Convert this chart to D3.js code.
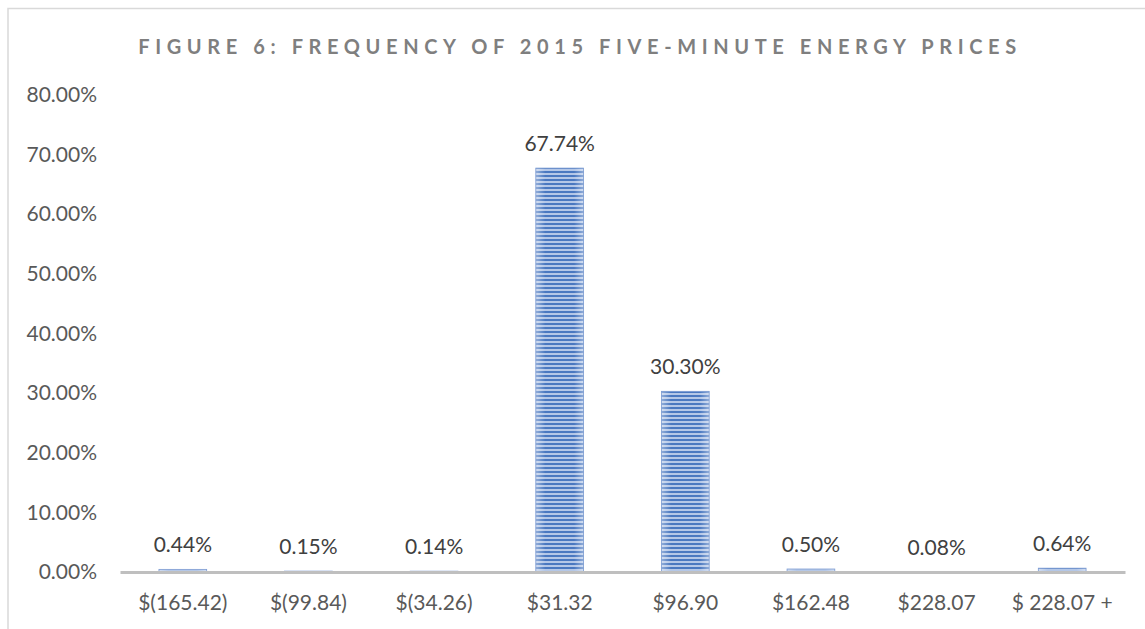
<!DOCTYPE html>
<html>
<head>
<meta charset="utf-8">
<script src="https://cdn.jsdelivr.net/npm/d3@7"></script>
<style>
  body { margin: 0; background: #fff; }
  svg { display: block; font-family: Lato, "Open Sans", sans-serif; }
</style>
</head>
<body>
<div id="chart"></div>
<script>
// ------------------------------------------------------------------
// frequency of 2015 five-minute energy prices
// ------------------------------------------------------------------
const title_text = "FIGURE 6: FREQUENCY OF 2015 FIVE-MINUTE ENERGY PRICES"
const categories = ["$(165.42)", "$(99.84)", "$(34.26)", "$31.32", "$96.90", "$162.48", "$228.07", "$ 228.07 +"]
const shares = [0.44, 0.15, 0.14, 67.74, 30.30, 0.50, 0.08, 0.64]
const y_ticks = [0, 10, 20, 30, 40, 50, 60, 70, 80]

const W = 1145, H = 629
const margin = {top: 95, right: 20, bottom: 57, left: 120}
const width = W - margin.left - margin.right
const height = H - margin.top - margin.bottom
const font_size = 21

const svg = d3.select("#chart").append("svg")
    .attr("width", W)
    .attr("height", H)

// stripes + side shading for the bars
const defs = svg.append("defs")
const pat = defs.append("pattern")
    .attr("id", "stripes")
    .attr("patternUnits", "userSpaceOnUse")
    .attr("width", 8).attr("height", 4)
pat.append("rect").attr("width", 8).attr("height", 4).attr("fill", "#b4c7e7")
pat.append("rect").attr("width", 8).attr("height", 2).attr("fill", "#4a78c0")

const grad = defs.append("linearGradient").attr("id", "shade")
    .attr("x1", "0").attr("x2", "1").attr("y1", "0").attr("y2", "0")
grad.append("stop").attr("offset", "0").attr("stop-color", "#fff").attr("stop-opacity", 0.4)
grad.append("stop").attr("offset", "0.2").attr("stop-color", "#fff").attr("stop-opacity", 0)
grad.append("stop").attr("offset", "0.8").attr("stop-color", "#fff").attr("stop-opacity", 0)
grad.append("stop").attr("offset", "1").attr("stop-color", "#fff").attr("stop-opacity", 0.4)

// chart border
svg.append("rect")
    .attr("x", 8).attr("y", 8.5)
    .attr("width", W).attr("height", H)
    .attr("fill", "none")
    .attr("stroke", "#d9d9d9")
    .attr("stroke-width", 1.5)

svg.append("text")
    .attr("x", 580).attr("y", 54)
    .attr("text-anchor", "middle")
    .attr("font-size", 20)
    .attr("font-weight", "bold")
    .attr("letter-spacing", 5.6)
    .attr("fill", "#7f7f7f")
    .text(title_text)

const g = svg.append("g")
    .attr("transform", "translate(" + margin.left + "," + margin.top + ")")

const x = d3.scaleBand()
    .domain(categories)
    .range([0, width])
    .paddingInner(0.62)
    .paddingOuter(0.31)

const y = d3.scaleLinear()
    .domain([0, 80])
    .range([height, 0])

// y axis labels (no line)
const yAxis = g.append("g")
    .call(d3.axisLeft(y).tickValues(y_ticks).tickSize(0).tickPadding(23)
        .tickFormat(d => d3.format(".2f")(d) + "%"))
yAxis.select(".domain").remove()
yAxis.selectAll("text")
    .attr("font-size", font_size)
    .attr("font-family", "Lato, 'Open Sans', sans-serif")
    .attr("fill", "#595959")

// bars
const bars = g.selectAll(".bar")
    .data(shares)
    .enter().append("g")
    .attr("class", "bar")

bars.append("rect")
    .attr("x", (d, i) => x(categories[i]))
    .attr("y", d => y(d))
    .attr("width", x.bandwidth())
    .attr("height", d => height - y(d))
    .attr("fill", "url(#stripes)")

bars.append("rect")
    .attr("x", (d, i) => x(categories[i]))
    .attr("y", d => y(d))
    .attr("width", x.bandwidth())
    .attr("height", d => height - y(d))
    .attr("fill", "url(#shade)")
    .attr("stroke", "#7c9bd2")
    .attr("stroke-width", 0.8)

// value labels
g.selectAll(".val")
    .data(shares)
    .enter().append("text")
    .attr("class", "val")
    .attr("x", (d, i) => x(categories[i]) + x.bandwidth() / 2)
    .attr("y", d => y(d) - 17)
    .attr("text-anchor", "middle")
    .attr("font-size", font_size)
    .attr("fill", "#404040")
    .text(d => d3.format(".2f")(d) + "%")

// x axis
const xAxis = g.append("g")
    .attr("transform", "translate(0," + height + ")")
    .call(d3.axisBottom(x).tickSize(0).tickPadding(23))
xAxis.select(".domain")
    .attr("stroke", "#bfbfbf")
    .attr("stroke-width", 3)
xAxis.selectAll("text")
    .attr("font-size", font_size)
    .attr("font-family", "Lato, 'Open Sans', sans-serif")
    .attr("fill", "#595959")
</script>
</body>
</html>
